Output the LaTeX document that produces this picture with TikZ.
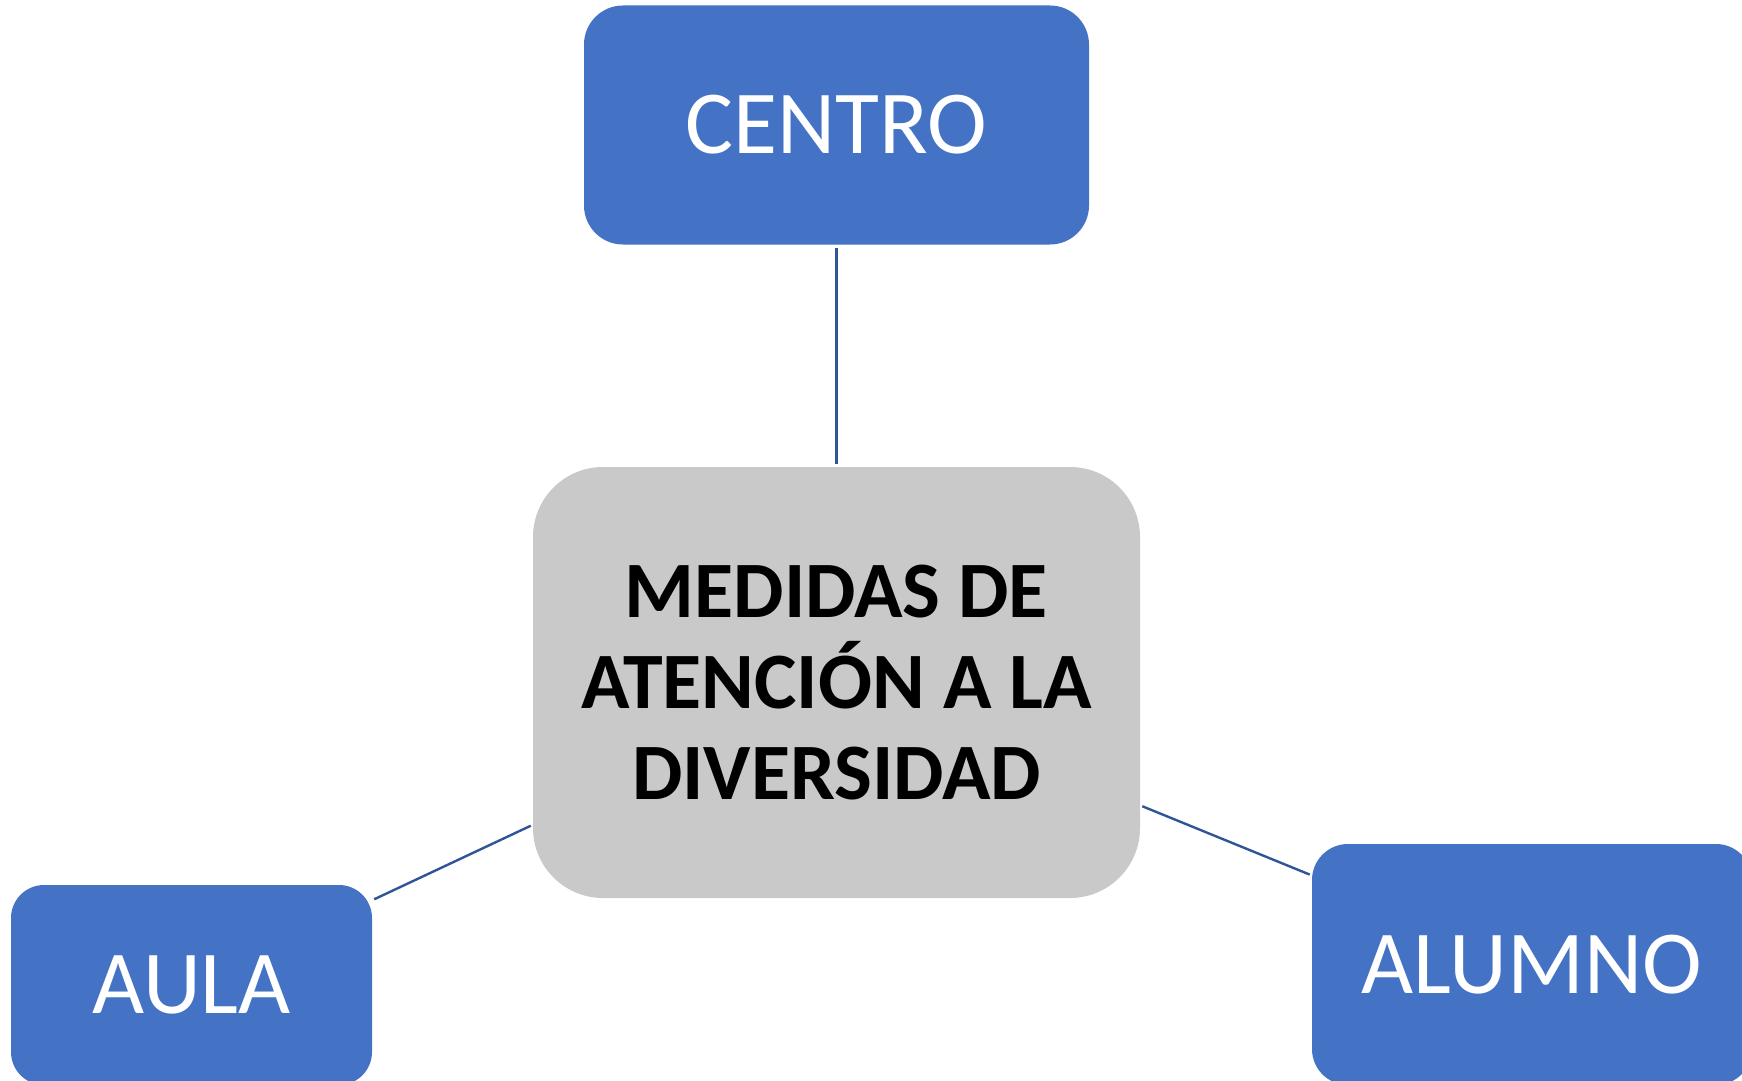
\documentclass[tikz,border=0pt]{standalone}
\usepackage{fontspec}
\setmainfont{Carlito}
\usepackage{tikz}
\usetikzlibrary{positioning}
\definecolor{boxblue}{HTML}{4472C4}
\definecolor{boxgray}{HTML}{C9C9C9}
\definecolor{linkblue}{HTML}{2F5597}

\begin{document}
\begin{tikzpicture}[x=0.5pt,y=-0.5pt,
  level/.style={fill=boxblue,text=white,inner sep=0pt,font=\fontsize{45}{54}\selectfont},
  core/.style={fill=boxgray,text=black,inner sep=0pt,align=center,rounded corners=35pt,
    minimum width=303.5pt,minimum height=215.5pt,font=\fontsize{40}{45.5}\selectfont\bfseries},
  link/.style={draw=linkblue,line width=1.2pt}]
\clip (0,0) rectangle (1742,1081);
\node[core] (medidas) at (836.5,682.5) {MEDIDAS DE\\ATENCIÓN A LA\\DIVERSIDAD};
\node[level,minimum width=252.5pt,minimum height=119.5pt,rounded corners=19.5pt] (centro) at (836.5,125) {CENTRO};
\node[level,minimum width=180.5pt,minimum height=100pt,rounded corners=16.5pt] (aula) at (191.5,985) {AULA};
\node[level,minimum width=220pt,minimum height=120.5pt,rounded corners=18pt] (alumno) at (1532,964.5) {ALUMNO};
\draw[link,shorten <=1.5pt,shorten >=1.5pt] (centro) -- (medidas);
\draw[link,shorten <=1pt,shorten >=1pt] (aula) -- (medidas);
\draw[link,shorten <=1pt,shorten >=1pt] (medidas) -- (alumno);
\end{tikzpicture}
\end{document}
